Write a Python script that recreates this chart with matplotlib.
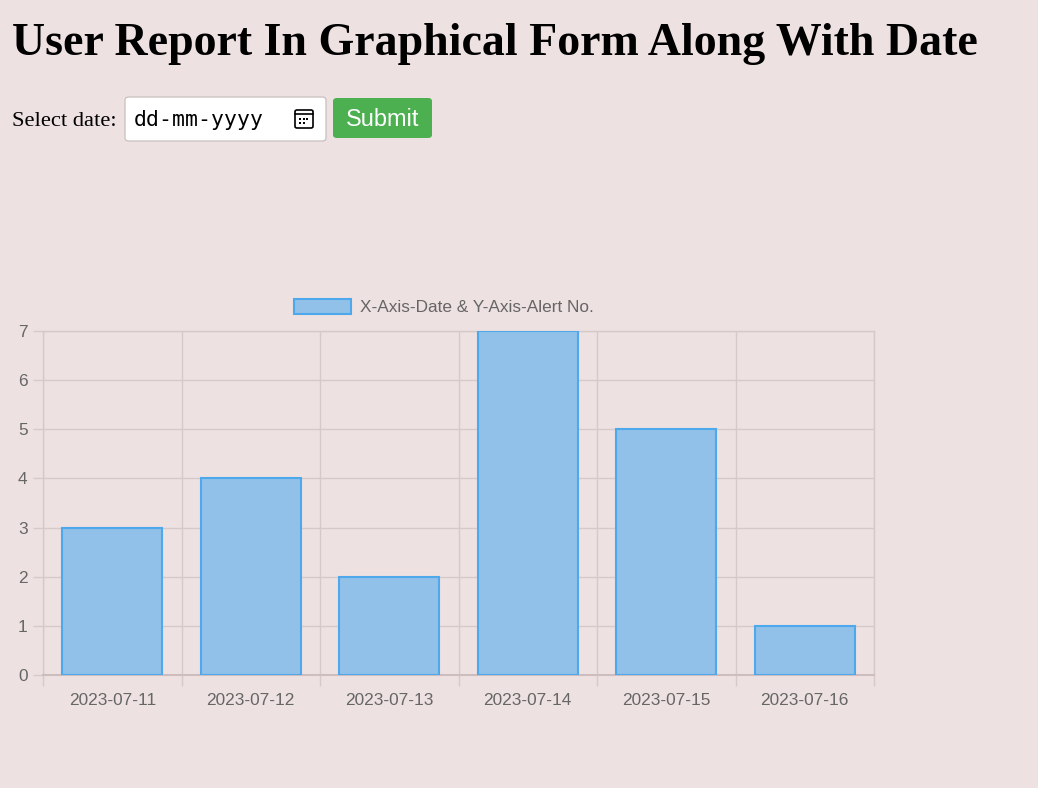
import matplotlib
matplotlib.use("Agg")
import matplotlib.pyplot as plt
from matplotlib.patches import FancyBboxPatch, Rectangle
import numpy as np

dates = ["2023-07-11", "2023-07-12", "2023-07-13", "2023-07-14", "2023-07-15", "2023-07-16"]
alerts = [3, 4, 2, 7, 5, 1]
y_ticks = [0, 1, 2, 3, 4, 5, 6, 7]
legend_label = "X-Axis-Date & Y-Axis-Alert No."
title = "User Report In Graphical Form Along With Date"

W, H = 1038, 788
BG = "#EEE1E1"
GRID = "#D5CACA"
TICKC = "#666666"
BAR_FACE = "#91C1E8"
BAR_EDGE = "#4DA9EC"

fig = plt.figure(figsize=(W / 100, H / 100), dpi=100, facecolor=BG)

def fx(px):
    return px / W

def fy(py):
    return 1 - py / H

# Title
fig.text(fx(12), fy(44), title, family="Liberation Serif", fontweight="bold",
         fontsize=33, va="center", ha="left", color="black")

# Select date label
fig.text(fx(12), fy(121), "Select date:", family="Liberation Serif", fontsize=16.2,
         va="center", ha="left", color="black")

# Date input box
inp = FancyBboxPatch((fx(125), fy(141)), fx(326) - fx(125), fy(97) - fy(141),
                     boxstyle="round,pad=0,rounding_size=0.004",
                     transform=fig.transFigure, facecolor="white", edgecolor="#C8C0C0",
                     linewidth=0.9)
fig.patches.append(inp)
fig.text(fx(134), fy(120), "dd-mm-yyyy", family="DejaVu Sans Mono", fontsize=15.5,
         va="center", ha="left", color="black")
# Calendar icon
cal = FancyBboxPatch((fx(295), fy(128)), fx(313) - fx(295), fy(110) - fy(128),
                     boxstyle="round,pad=0,rounding_size=0.002",
                     transform=fig.transFigure, facecolor="white", edgecolor="black",
                     linewidth=1.2)
fig.patches.append(cal)
fig.lines.append(plt.Line2D([fx(295), fx(313)], [fy(114), fy(114)],
                            transform=fig.transFigure, color="black", linewidth=1.2))
for dx in (300, 303.5, 307):
    for dy in (119, 123):
        if dx == 307 and dy == 123:
            continue
        fig.patches.append(Rectangle((fx(dx - 1), fy(dy + 1)), fx(2), 2 / H,
                                     transform=fig.transFigure, facecolor="black",
                                     edgecolor="none"))

# Submit button
btn = FancyBboxPatch((fx(333), fy(138)), fx(432) - fx(333), fy(98) - fy(138),
                     boxstyle="round,pad=0,rounding_size=0.004",
                     transform=fig.transFigure, facecolor="#4CAF50", edgecolor="none")
fig.patches.append(btn)
fig.text(fx(383), fy(120), "Submit", family="Liberation Sans", fontsize=16.9,
         va="center", ha="center", color="white")

# Chart axes
left, right, top, bottom = 43, 874, 331, 675
ax = fig.add_axes([fx(left), fy(bottom), fx(right) - fx(left), fy(top) - fy(bottom)])
ax.set_facecolor("none")

x = np.arange(len(dates))
ax.bar(x, alerts, width=0.72, color=BAR_FACE, edgecolor=BAR_EDGE, linewidth=1.5,
       label=legend_label, zorder=3)
ax.set_xlim(-0.5, len(dates) - 0.5)
ax.set_ylim(0, max(y_ticks))

ax.set_xticks(x)
ax.set_xticklabels(dates, family="Liberation Sans", fontsize=12.4, color=TICKC)
ax.set_xticks(np.arange(len(dates) + 1) - 0.5, minor=True)
ax.tick_params(axis="x", which="major", length=0, pad=13)
ax.tick_params(axis="x", which="minor", length=8, width=1, color=GRID)
ax.set_yticks(y_ticks)
ax.set_yticklabels([str(v) for v in y_ticks], family="Liberation Sans", fontsize=12.4,
                   color=TICKC)
ax.tick_params(axis="y", length=7, width=1, color=GRID, pad=4)

ax.grid(True, axis="x", which="minor", color=GRID, linewidth=1, zorder=0)
ax.grid(True, axis="y", which="major", color=GRID, linewidth=1, zorder=0)
ax.grid(False, axis="x", which="major")
for s in ax.spines.values():
    s.set_color(GRID)
    s.set_linewidth(1)
ax.spines["bottom"].set_color("#CDBDBD")
ax.spines["bottom"].set_linewidth(1.5)

# Legend
leg = ax.legend(loc="center", frameon=False,
                prop={"family": "Liberation Sans", "size": 12.4},
                handlelength=3.3, handleheight=1.0, handletextpad=0.5,
                borderaxespad=0.0, borderpad=0.0)
leg.set_bbox_to_anchor((fx(444), fy(307)), transform=fig.transFigure)
for t in leg.get_texts():
    t.set_color(TICKC)

fig.savefig("out.png", dpi=100, facecolor=BG)
